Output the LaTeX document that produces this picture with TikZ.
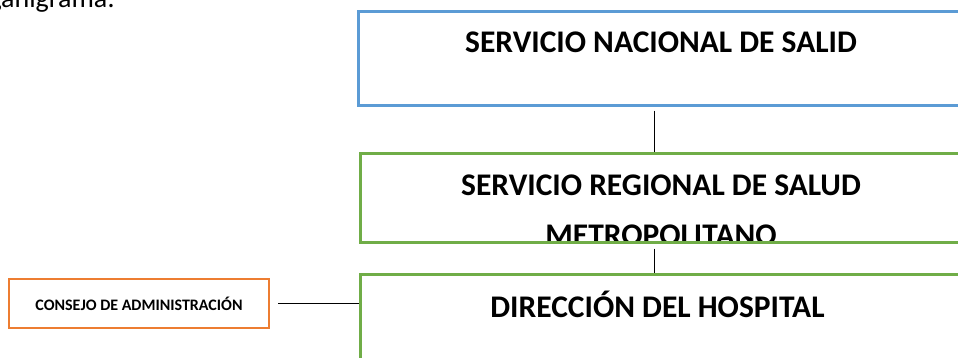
\documentclass[tikz,border=0pt]{standalone}
\usepackage{fontspec}
\setmainfont{Carlito}
\definecolor{blueC}{HTML}{5B9BD5}
\definecolor{greenC}{HTML}{70AD47}
\definecolor{orangeC}{HTML}{ED7D31}
\begin{document}
\begin{tikzpicture}[x=1pt,y=-1pt,
  box/.style={draw=#1, line width=3pt, inner sep=0pt, rectangle},
  bigtxt/.style={font=\bfseries\fontsize{31.5}{38}\selectfont, inner sep=0pt, anchor=base},
  link/.style={draw=black, line width=1pt}]
\useasboundingbox (0,0) rectangle (958,357);
\clip (0,0) rectangle (958,357);
% partial heading at top left
\node[font=\fontsize{28}{32}\selectfont, anchor=base east, inner sep=0pt] (head) at (115,7) {organigrama:};
% boxes
\node[box=blueC, minimum width=700pt, minimum height=94pt] (nac) at (708,58) {};
\node[bigtxt] (nact) at (661,52) {SERVICIO NACIONAL DE SALID};
\begin{scope}
  \clip (360,153) rectangle (1100,240.5);
  \node[bigtxt] (regt) at (661,195) {SERVICIO REGIONAL DE SALUD};
  \node[bigtxt] (regt2) at (661,245) {METROPOLITANO};
\end{scope}
\node[box=greenC, minimum width=700pt, minimum height=89pt] (reg) at (710,197.5) {};
\node[box=greenC, minimum width=700pt, minimum height=200pt] (dir) at (710,374) {};
\node[bigtxt] (dirt) at (657.5,317) {DIRECCIÓN DEL HOSPITAL};
\node[box=orangeC, line width=2.5pt, minimum width=260pt, minimum height=49pt,
      font=\bfseries\fontsize{16}{19}\selectfont] (cons) at (139,303.5) {CONSEJO DE ADMINISTRACIÓN};
% connectors
\coordinate (axis) at (654,0);
\draw[link] ([yshift=-4pt]nac.south -| axis) -- (reg.north -| axis);
\draw[link] ([yshift=-5pt]reg.south -| axis) -- (dir.north -| axis);
\draw[link] ([xshift=8pt]cons.east) -- (cons.east -| dir.west);
\end{tikzpicture}
\end{document}
